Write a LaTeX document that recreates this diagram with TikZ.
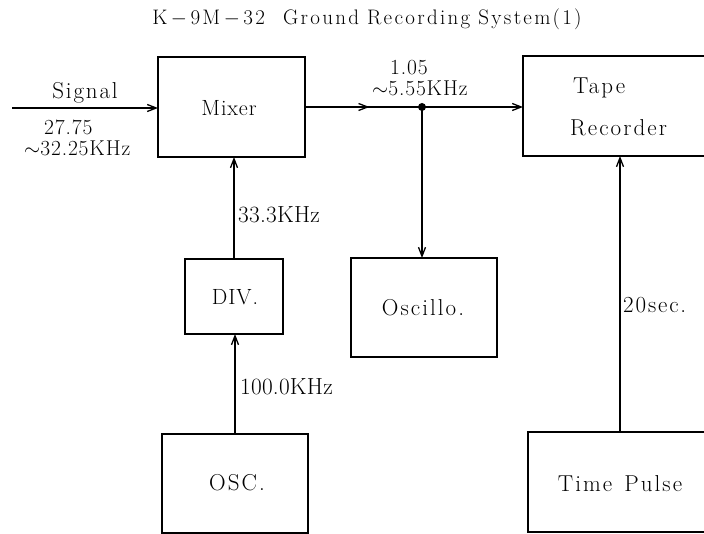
\documentclass[tikz,border=0pt]{standalone}
\usepackage{fontspec}
\setmainfont{Latin Modern Roman}
\usetikzlibrary{arrows.meta,decorations.markings}
\tikzset{
  blk/.style={draw, line width=1.3pt, inner sep=0pt, outer sep=0pt, anchor=north west},
  tip/.style={-{Straight Barb[length=9pt,width=7pt,line width=1.3pt]}},
  conn/.style={line width=1.5pt, tip},
  midarrow/.style={postaction={decorate}, decoration={markings, mark=at position 0.55 with {\arrow{Straight Barb[length=9pt,width=7pt,line width=1.3pt]}}}},
  lbl/.style={inner sep=0pt, font=\fontsize{23.3}{17.5}\selectfont\addfontfeature{LetterSpace=1}},
  lbltight/.style={inner sep=0pt, anchor=base west, text height=13pt, text depth=0pt, font=\fontsize{21.5}{17.5}\selectfont\addfontfeature{LetterSpace=4}},
  lblwide/.style={inner sep=0pt, font=\fontsize{23}{26}\selectfont\addfontfeature{LetterSpace=8}},
  boxtxt/.style={inner sep=0pt, font=\fontsize{23}{26}\selectfont\addfontfeature{LetterSpace=9}},
  boxtight/.style={inner sep=0pt, font=\fontsize{22}{26}\selectfont\addfontfeature{LetterSpace=4}},
  boxwide/.style={inner sep=0pt, font=\fontsize{23}{26}\selectfont\addfontfeature{LetterSpace=9}},
  ttl/.style={inner sep=0pt, font=\fontsize{21}{24}\selectfont\addfontfeature{LetterSpace=11}},
}
\begin{document}
\begin{tikzpicture}[x=1pt,y=-1pt]
\useasboundingbox (0,0) rectangle (704,534);
\clip (0,0) rectangle (704,534);
% title
\node[ttl] (title) at (367,19) {K{\,}$-${\,}9M{\,}$-${\,}32\hspace{18pt}Ground\hspace{8pt}Recording\hspace{8pt}System\hspace{2pt}(1)};
% boxes
\node[blk, minimum width=147pt, minimum height=100pt] (mixer) at (158,57) {};
\node[blk, minimum width=98pt, minimum height=75pt] (div) at (185,259) {};
\node[blk, minimum width=146pt, minimum height=99pt] (osc) at (162,434) {};
\node[blk, minimum width=146pt, minimum height=99pt] (oscillo) at (351,258) {};
\node[blk, minimum width=230pt, minimum height=100pt] (tape) at (523,56) {};
\node[blk, minimum width=230pt, minimum height=100pt] (tpulse) at (528,432) {};
% box texts
\node[boxtight] (tmixer) at (229,108) {Mixer};
\node[boxtight] (tdiv) at (235,297) {DIV.};
\node[boxtxt] (tosc) at (237,483) {OSC.};
\node[boxtxt] (toscillo) at (423,308) {Oscillo.};
\node[boxtxt, anchor=west] (ttape) at (573,88) {Tape};
\node[boxtxt, anchor=west] (trec) at (570,128) {Recorder};
\node[boxwide] (ttp) at (620,484) {Time\ \hspace{3pt}Pulse};
% junction
\node[circle, fill, inner sep=0pt, minimum size=8pt] (junc) at (422,107) {};
\coordinate (sigin) at (12,108);
\coordinate (tpx) at (620,0);
% connectors
\draw[conn] (sigin) -- (sigin -| mixer.west);
\draw[line width=1.5pt, midarrow] (mixer.east |- junc) -- (junc.center);
\draw[conn] (junc.center) -- (junc -| tape.west);
\draw[conn] (junc.center) -- (junc |- oscillo.north);
\draw[conn] (div.north) -- (div.north |- mixer.south);
\draw[conn] (osc.north) -- (osc.north |- div.south);
\draw[conn] (tpx |- tpulse.north) -- (tpx |- tape.south);
% labels
\node[lblwide] (lsig) at (85,93) {Signal};
\node[lbltight] (lf1) at (44,135) {27.75};
\node[lbltight] (lf2) at (24,156) {$\sim$32.25KHz};
\node[lbltight] (lm1) at (390,74.5) {1.05};
\node[lbltight] (lm2) at (372,95.5) {$\sim$5.55KHz};
\node[lbl, anchor=west] (l33) at (238,215) {33.3KHz};
\node[lbl, anchor=west] (l100) at (240,387) {100.0KHz};
\node[lblwide, anchor=west] (l20) at (623,305) {20sec.};
\end{tikzpicture}
\end{document}
